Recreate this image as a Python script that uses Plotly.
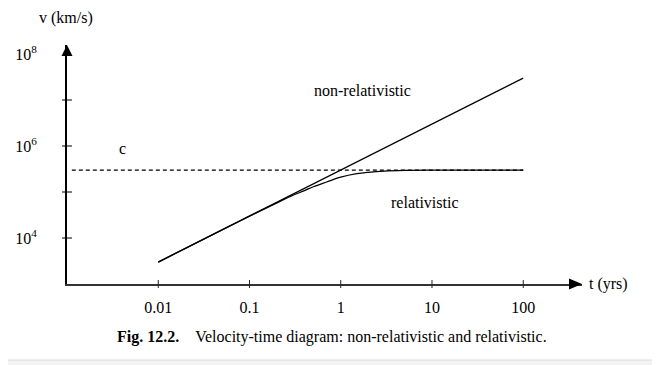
import plotly.graph_objects as go

# ---- data ----
t_nonrel = [0.01, 100]
v_nonrel = [3.0e3, 3.0e7]

t_rel = [0.01, 0.05, 0.1, 0.2, 0.3, 0.4, 0.5, 0.7, 1.0, 1.5, 2.0, 3.0, 5.0, 10, 30, 100]
v_rel = [3.0e3, 1.5e4, 2.98e4, 5.8e4, 8.5e4, 1.07e5, 1.3e5, 1.65e5, 2.1e5, 2.5e5,
         2.68e5, 2.85e5, 2.95e5, 2.99e5, 3.0e5, 3.0e5]

t_c = [0.00113, 100]
v_c = [3.0e5, 3.0e5]

x_tickvals = [0.01, 0.1, 1, 10, 100]
x_ticktext = ["0.01", "0.1", "1", "10", "100"]
y_tickmarks = [1e4, 1e5, 1e6, 1e7]
y_labelvals = [1e4, 1e6, 1e8]
y_labeltext = ["10<sup>4</sup>", "10<sup>6</sup>", "10<sup>8</sup>"]

FONT = "Liberation Serif"
# page body has an 8px margin, so the figure is offset by 8px
W, H = 660, 357
L, T = 59, 37
PW, PH = 515, 239
R, B = W - L - PW, H - T - PH
XR = [-3, 2.644]
YR = [3, 8.196]


def xp(px):  # target-pixel x -> paper
    return (px - 67) / PW


def yp(py):  # target-pixel y -> paper
    return 1 - (py - 45) / PH


fig = go.Figure()
fig.add_trace(go.Scatter(x=t_c, y=v_c, mode="lines",
                         line=dict(color="black", width=1.3, dash="4px,3px"), hoverinfo="skip"))
fig.add_trace(go.Scatter(x=t_nonrel, y=v_nonrel, mode="lines",
                         line=dict(color="black", width=1.3), hoverinfo="skip"))
fig.add_trace(go.Scatter(x=t_rel, y=v_rel, mode="lines", line_shape="spline",
                         line=dict(color="black", width=1.3), hoverinfo="skip"))

shapes = []
# tick marks crossing the axes
for v in y_tickmarks:
    shapes.append(dict(type="line", xref="paper", yref="y", x0=-5 / PW, x1=5 / PW,
                       y0=v, y1=v, line=dict(color="black", width=1)))
for t in x_tickvals:
    shapes.append(dict(type="line", xref="x", yref="paper", x0=t, x1=t,
                       y0=-4 / PH, y1=4 / PH, line=dict(color="#222", width=1)))
# arrowheads
shapes.append(dict(type="path", xref="paper", yref="paper",
                   path=f"M 0 1 L {-5.5/PW} {1-11/PH} L {5.5/PW} {1-11/PH} Z",
                   fillcolor="black", line=dict(color="black", width=0)))
shapes.append(dict(type="path", xref="paper", yref="paper",
                   path=f"M 1 0 L {1-13/PW} {5.5/PH} L {1-13/PW} {-5.5/PH} Z",
                   fillcolor="black", line=dict(color="black", width=0)))
# page footer strip
shapes.append(dict(type="rect", xref="paper", yref="paper", x0=xp(-20), x1=xp(700),
                   y0=yp(375), y1=yp(360),
                   fillcolor="#f3f3f3", line=dict(width=0), layer="below"))
shapes.append(dict(type="line", xref="paper", yref="paper", x0=xp(-20), x1=xp(700),
                   y0=yp(360), y1=yp(360), line=dict(color="#dcdcdc", width=1)))

annotations = [
    dict(text="v (km/s)", xref="paper", yref="paper", x=xp(66), y=yp(18),
         xanchor="center", yanchor="middle", showarrow=False, font=dict(size=16)),
    dict(text="t (yrs)", xref="paper", yref="paper", x=xp(587), y=yp(284),
         xanchor="left", yanchor="middle", showarrow=False, font=dict(size=16)),
    dict(text="c", xref="paper", yref="paper", x=xp(122), y=yp(148),
         xanchor="center", yanchor="middle", showarrow=False, font=dict(size=16)),
    dict(text="non-relativistic", xref="paper", yref="paper", x=xp(362), y=yp(91),
         xanchor="center", yanchor="middle", showarrow=False, font=dict(size=16)),
    dict(text="relativistic", xref="paper", yref="paper", x=xp(425), y=yp(202),
         xanchor="center", yanchor="middle", showarrow=False, font=dict(size=16)),
    dict(text="<b>Fig. 12.2.</b>\u00a0\u00a0\u00a0\u00a0Velocity-time diagram: non-relativistic and relativistic.",
         xref="paper", yref="paper", x=xp(332), y=yp(337),
         xanchor="center", yanchor="middle", showarrow=False, font=dict(size=16)),
]

fig.update_layout(
    width=W, height=H, margin=dict(l=L, r=R, t=T, b=B, autoexpand=False),
    paper_bgcolor="white", plot_bgcolor="white", showlegend=False,
    font=dict(family=FONT, size=16, color="black"),
    xaxis=dict(type="log", range=XR, showgrid=False, zeroline=False, automargin=False,
               showline=True, linecolor="#333", linewidth=2,
               tickvals=x_tickvals, ticktext=x_ticktext, ticks="",
               ticklabelstandoff=8, tickfont=dict(size=16)),
    yaxis=dict(type="log", range=YR, showgrid=False, zeroline=False, automargin=False,
               showline=True, linecolor="black", linewidth=2,
               tickvals=y_labelvals, ticktext=y_labeltext, ticks="",
               ticklabelstandoff=25, tickfont=dict(size=16)),
    shapes=shapes, annotations=annotations,
)

fig.write_html("out.html")
